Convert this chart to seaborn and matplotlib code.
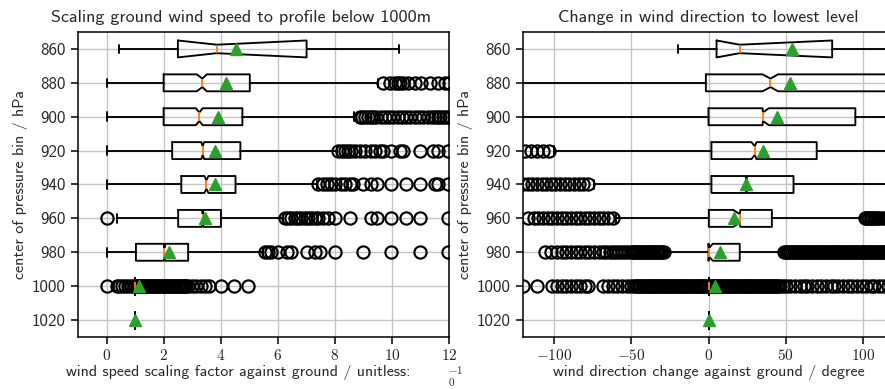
import matplotlib
matplotlib.use("Agg")
import matplotlib.pyplot as plt
import matplotlib.ticker as mticker
import seaborn as sns

levels = [860, 880, 900, 920, 940, 960, 980, 1000, 1020]

# ---- left panel: wind speed scaling factor ----
spd_wlo = [0.42, 0.0, 0.0, 0.0, 0.0, 0.36, 0.0, 1.0, 1.0]
spd_q1 = [2.50, 2.00, 2.00, 2.30, 2.62, 2.51, 1.03, 1.0, 1.0]
spd_med = [3.86, 3.36, 3.25, 3.37, 3.50, 3.37, 2.03, 1.0, 1.0]
spd_q3 = [7.01, 5.02, 4.76, 4.69, 4.52, 4.01, 2.86, 1.0, 1.0]
spd_whi = [10.25, 9.52, 8.68, 8.06, 7.39, 6.19, 5.49, 1.0, 1.0]
spd_mean = [4.52, 4.20, 3.89, 3.80, 3.80, 3.45, 2.19, 1.15, 1.0]
spd_cilo = [2.50, 3.16, 3.13, 3.32, 3.43, 3.34, 2.00, 1.0, 1.0]
spd_cihi = [7.01, 3.51, 3.37, 3.42, 3.57, 3.40, 2.06, 1.0, 1.0]
spd_fliers = [
    [],
    [9.69, 9.93, 10.1, 10.22, 10.3, 10.39, 10.57, 10.81, 11.03, 11.32, 11.61, 11.85, 12.0],
    [8.87, 8.95, 9.05, 9.15, 9.25, 9.35, 9.45, 9.6, 9.75, 9.9, 10.05, 10.2, 10.35, 10.5,
     10.65, 10.8, 10.95, 11.1, 11.25, 11.4, 11.5, 11.6, 11.7, 11.8, 11.9, 12.0],
    [8.12, 8.24, 8.36, 8.47, 8.58, 8.7, 8.87, 9.05, 9.28, 9.4, 9.57, 9.69, 9.98, 10.27,
     10.39, 10.97, 11.44, 11.61, 11.97],
    [7.42, 7.6, 7.71, 7.88, 8.0, 8.23, 8.35, 8.53, 8.64, 8.99, 9.28, 9.46, 9.98, 10.51,
     10.97, 11.5, 11.61, 11.97],
    [0.0, 6.25, 6.37, 6.48, 6.6, 6.72, 6.83, 6.95, 7.07, 7.18, 7.3, 7.42, 7.6, 7.77, 8.0,
     8.53, 9.28, 9.46, 9.98, 10.51, 10.97, 11.97],
    [5.55, 5.67, 5.78, 6.02, 6.31, 6.48, 7.01, 7.3, 7.47, 8.0, 8.99, 9.98, 10.97, 11.97],
    [0.0, 0.35, 0.45, 0.55, 0.65, 0.75, 0.85, 0.95, 1.0, 1.05, 1.1, 1.15, 1.2, 1.25, 1.3,
     1.35, 1.4, 1.45, 1.5, 1.55, 1.6, 1.65, 1.7, 1.75, 1.8, 1.85, 1.9, 1.95, 2.0, 2.05,
     2.1, 2.15, 2.2, 2.25, 2.3, 2.35, 2.4, 2.45, 2.5, 2.55, 2.6, 2.65, 2.7, 2.75, 2.8,
     2.85, 3.0, 3.15, 3.3, 3.45, 3.6, 4.0, 4.45, 4.95],
    [],
]

# ---- right panel: wind direction change ----
dir_wlo = [-20, -180, -180, -100, -74, -60, -28, 0, 0]
dir_q1 = [5.2, -1.7, 0.0, 1.9, 1.9, 0.2, 0.0, 0, 0]
dir_med = [20.2, 40.1, 35.2, 30.0, 24.5, 20.2, 0.3, 0, 0]
dir_q3 = [80.0, 125.0, 95.0, 70.0, 55.0, 41.0, 20.2, 0, 0]
dir_whi = [170, 180, 180, 180, 180, 100, 48, 0, 0]
dir_mean = [53.7, 53.0, 44.0, 35.0, 24.0, 16.6, 7.3, 4.0, 0.0]
dir_cilo = [5.2, 35.0, 35.0, 27.8, 24.0, 16.0, 0.0, 0, 0]
dir_cihi = [80.0, 45.0, 39.0, 31.0, 25.0, 20.6, 2.8, 0, 0]
dir_fliers = [
    [],
    [],
    [],
    [-119, -115, -111, -107, -103],
    [-120, -117, -114, -111, -108, -105, -102, -99, -96, -93, -90, -87, -84, -81, -78],
    [-117, -113, -110, -107, -104, -101, -98, -95, -92, -89, -86, -83, -80, -77, -74,
     -71, -68, -65, -62, 101, 102, 103, 104, 105, 106, 107, 108, 109, 110, 112, 114,
     116, 118, 120],
    [-106, -102, -98, -95, -92, -89, -86, -83, -80, -77, -74, -71, -68, -66, -64, -62,
     -60, -58, -56, -54, -52, -50, -49, -48, -47, -46, -45, -44, -43, -42, -41, -40,
     -39, -38, -37, -36, -35, -34, -33, -32, -31, -30, -29,
     49, 50, 51, 52, 53, 54, 55, 56, 57, 58, 59, 60, 61, 62, 63, 64, 65, 66, 67, 68,
     69, 70, 71, 72, 73, 74, 75, 76, 77, 78, 79, 80, 81, 82, 83, 84, 85, 86, 87, 88,
     89, 90, 91, 92, 93, 94, 95, 96, 97, 98, 99, 100, 101, 102, 103, 104, 105, 106,
     107, 108, 109, 110, 111, 112, 113, 114, 115, 116, 117, 118, 119, 120],
    [-120, -111, -101, -98, -95, -92, -89, -86, -83, -80, -78, -68, -65, -62, -59, -56,
     -53, -50, -48, -47, -46, -45, -44, -43, -42, -41, -40, -39, -38, -37, -36, -35,
     -34, -33, -32, -31, -30, -29, -28, -27, -26, -25, -24, -23, -22, -21, -20, -19,
     -18, -17, -16, -15, -14, -13, -12, -11, -10, -9, -8, -7, -6, -5, -4, -3, -2, -1,
     1, 2, 3, 4, 5, 6, 7, 8, 9, 10, 11, 12, 13, 14, 15, 16, 17, 18, 19, 20, 21, 22,
     23, 24, 25, 26, 27, 28, 29, 30, 31, 32, 33, 34, 35, 36, 37, 38, 39, 40, 41, 42,
     43, 44, 45, 46, 48, 50, 53, 56, 59, 62, 64, 67, 70, 73, 76, 79, 81, 84, 87, 90,
     93, 96, 99, 102, 105, 107, 110, 113, 116, 119],
    [],
]

sns.set_style("ticks")
plt.rcParams["font.family"] = ["cmss10", "DejaVu Sans"]
plt.rcParams["mathtext.fontset"] = "cm"
plt.rcParams["axes.unicode_minus"] = False
plt.rcParams["axes.formatter.use_mathtext"] = True


def make_stats(wlo, q1, med, q3, whi, mean, cilo, cihi, fliers):
    out = []
    for i in range(len(levels)):
        out.append(dict(whislo=wlo[i], q1=q1[i], med=med[i], q3=q3[i], whishi=whi[i],
                        mean=mean[i], cilo=cilo[i], cihi=cihi[i], fliers=fliers[i],
                        label=str(levels[i])))
    return out


fig = plt.figure(figsize=(8.85, 3.89), dpi=100)
axL = fig.add_axes([78 / 885, 1 - 337 / 389, 371 / 885, 305 / 389])
axR = fig.add_axes([523 / 885, 1 - 337 / 389, 371 / 885, 305 / 389])

lw = 1.35
kw = dict(
    positions=list(range(1, len(levels) + 1)), widths=0.5, showmeans=True,
    shownotches=True,
    boxprops=dict(color="black", linewidth=lw),
    whiskerprops=dict(color="black", linewidth=lw),
    capprops=dict(color="black", linewidth=lw),
    medianprops=dict(color="#ff7f0e", linewidth=lw),
    meanprops=dict(marker="^", markerfacecolor="#2ca02c", markeredgecolor="#2ca02c",
                   markersize=8.6),
    flierprops=dict(marker="o", markerfacecolor="none", markeredgecolor="black",
                    markersize=8.8, markeredgewidth=1.55),
)

panels = [
    (axL, make_stats(spd_wlo, spd_q1, spd_med, spd_q3, spd_whi, spd_mean, spd_cilo,
                     spd_cihi, spd_fliers)),
    (axR, make_stats(dir_wlo, dir_q1, dir_med, dir_q3, dir_whi, dir_mean, dir_cilo,
                     dir_cihi, dir_fliers)),
]
for ax, st in panels:
    try:
        ax.bxp(st, orientation="horizontal", **kw)
    except TypeError:
        ax.bxp(st, vert=False, **kw)
    ax.set_ylim(len(levels) + 0.5, 0.5)
    ax.set_yticks(list(range(1, len(levels) + 1)))
    ax.set_yticklabels([str(v) for v in levels], fontsize=12.2)
    ax.grid(True, color="#c4c4c4", linewidth=1.0)
    ax.set_axisbelow(True)
    for s in ax.spines.values():
        s.set_linewidth(1.1)
        s.set_color("black")
    ax.tick_params(axis="both", length=4.8, width=1.1, color="black", pad=4)
    ax.xaxis.set_major_formatter(mticker.FuncFormatter(lambda v, p: r"$%g$" % v))
    ax.set_ylabel("center of pressure bin / hPa", fontsize=11.5)
    ax.yaxis.set_label_coords(-0.135, 0.5)

axL.set_xlim(-1, 12)
axL.set_xticks([0, 2, 4, 6, 8, 10, 12])
axR.set_xlim(-120, 120)
axR.set_xticks([-100, -50, 0, 50, 100])
for ax in (axL, axR):
    ax.tick_params(axis="x", labelsize=11, pad=3)

axL.set_title("Scaling ground wind speed to profile below 1000m", fontsize=13, pad=7)
axL.title.set_x((241 - 78) / 371)
axR.set_title("Change in wind direction to lowest level", fontsize=13, pad=7)

axL.set_xlabel("wind speed scaling factor against ground / unitless:", fontsize=11.5)
axL.xaxis.set_label_coords((238 - 78) / 371, -0.092)
axR.set_xlabel("wind direction change against ground / degree", fontsize=11.5)
axR.xaxis.set_label_coords(0.5, -0.092)

fig.text(456 / 885, 1 - 370 / 389, r"$-1$", fontsize=8, ha="center", va="center")
fig.text(452 / 885, 1 - 382 / 389, r"$0$", fontsize=8, ha="center", va="center")

fig.savefig("out.png", dpi=100)
